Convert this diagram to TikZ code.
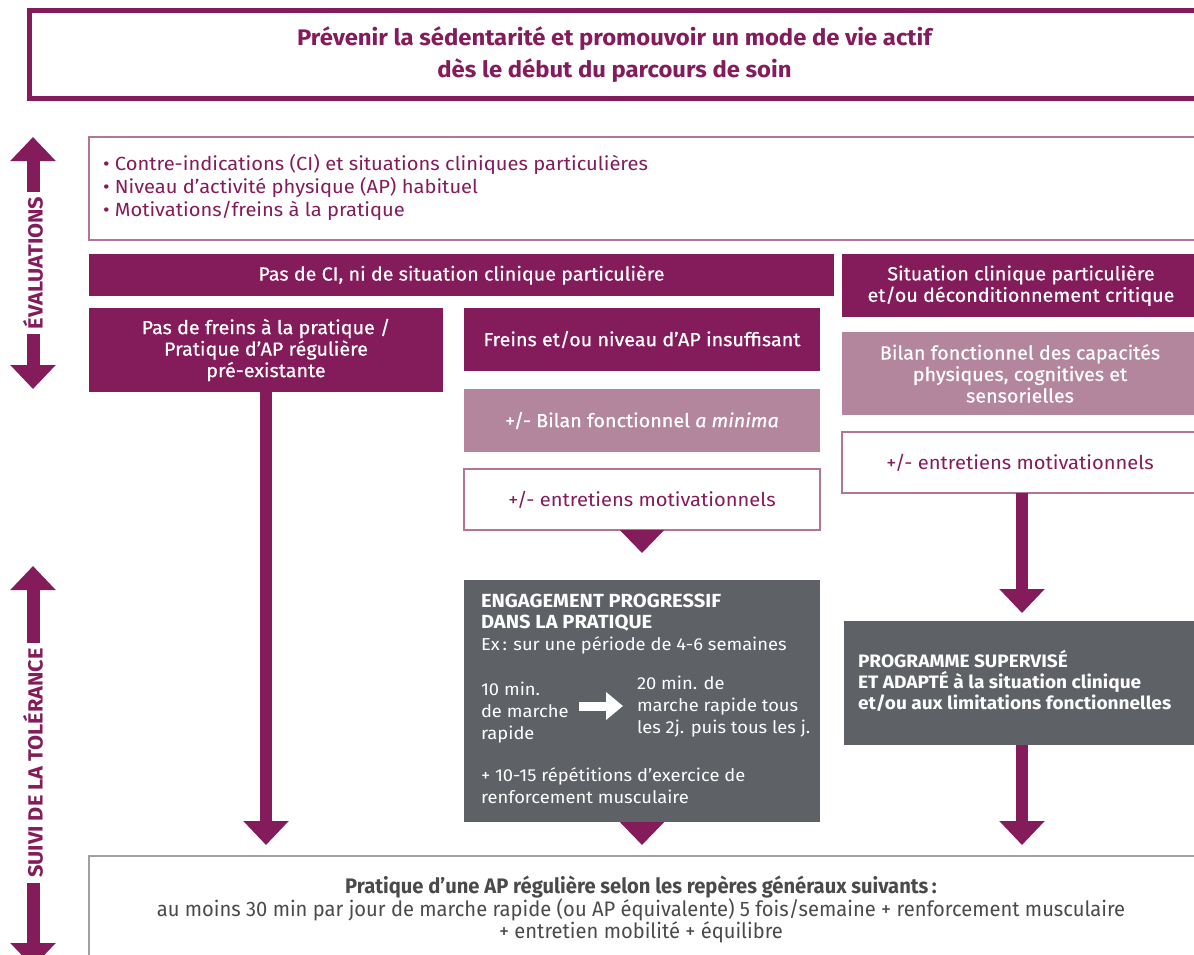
\documentclass[tikz,border=0pt]{standalone}
\usepackage{fontspec}
\setmainfont[FakeStretch=1.06]{Fira Sans}
\newfontfamily\condf[FakeStretch=0.96]{Fira Sans}
\newfontfamily\medf[FakeStretch=1.04,FakeBold=0.6]{Fira Sans}
\usetikzlibrary{arrows.meta}
\definecolor{pur}{HTML}{841B5B}
\definecolor{mauve}{HTML}{B4869E}
\definecolor{gry}{HTML}{5E6266}
\definecolor{pbord}{HTML}{B07597}
\definecolor{txtg}{HTML}{4A4A4A}
\newcommand\fs{\fontsize{19}{21.5}\selectfont}
\newcommand\gs{\fontsize{17.3}{22}\selectfont}
\tikzset{
  base/.style={inner sep=0pt, outer sep=0pt, anchor=north west, align=center, font=\fs},
  pfill/.style={base, fill=pur, text=white, font=\fs\medf},
  mfill/.style={base, fill=mauve, text=white, font=\fs\medf},
  wbox/.style={base, fill=white, draw=pbord, line width=1.2pt, text=pur},
  gfill/.style={base, fill=gry, text=white},
  txt/.style={inner sep=0pt, outer sep=0pt, align=left, font=\gs},
  bigarrow/.style={draw=pur, line width=12pt, -{Triangle[width=44pt,length=24pt]}},
  headonly/.style={draw=pur, line width=12pt, -{Triangle[width=43pt,length=23pt]}},
  sidelabel/.style={rotate=90, inner sep=0pt, outer sep=5pt, text=pur, font=\fontsize{20.5}{22}\selectfont\bfseries},
  whitearrow/.style={draw=white, line width=9pt, -{Triangle[width=27pt,length=17pt]}}
}
\begin{document}
\begin{tikzpicture}[x=1pt,y=-1pt]
\clip (0,0) rectangle (1194,954);
\fill[white] (0,0) rectangle (1194,954);
% title
\node[base, draw=pur, line width=5pt, minimum width=1170pt, minimum height=88pt, text=pur,
  font=\fontsize{22.5}{32}\selectfont\bfseries] (title) at (29.5,10.5)
  {Prévenir la sédentarité et promouvoir un mode de vie actif\\dès le début du parcours de soin};
% evaluations box
\node[base, draw=pbord, line width=1.2pt, minimum width=1110pt, minimum height=103pt] (eval) at (89,137) {};
\node[txt, text=pur, anchor=west, font=\fontsize{19}{23}\selectfont] (evaltxt) at (103,187)
  {• Contre-indications (CI) et situations cliniques particulières\\
   • Niveau d’activité physique (AP) habituel\\
   • Motivations/freins à la pratique};
% row 1
\node[pfill, minimum width=745pt, minimum height=42pt] (pasci) at (89,254) {Pas de CI, ni de situation clinique particulière};
\node[pfill, minimum width=358pt, minimum height=63pt] (sitcl) at (842,254) {Situation clinique particulière\\et/ou déconditionnement critique};
% left column
\node[pfill, minimum width=354pt, minimum height=84pt] (nofr) at (89,308) {Pas de freins à la pratique /\\Pratique d’AP régulière\\pré-existante};
% middle column
\node[pfill, minimum width=356pt, minimum height=63pt] (fre) at (464,308) {Freins et/ou niveau d’AP insuffisant};
\node[mfill, minimum width=356pt, minimum height=63pt] (bil) at (464,389) {+/- Bilan fonctionnel \textit{a minima}};
\node[wbox, minimum width=356pt, minimum height=61pt] (ent) at (464,469) {+/- entretiens motivationnels};
\node[gfill, minimum width=356pt, minimum height=242pt] (eng) at (464,580) {};
\node[txt, text=white, anchor=north west, font=\fontsize{19}{21}\selectfont\bfseries] (engt) at (481,594)
  {ENGAGEMENT PROGRESSIF\\DANS LA PRATIQUE};
\node[txt, text=white, anchor=north west] (ex) at (481,637) {Ex\,: sur une période de 4-6 semaines};
\node[txt, text=white, anchor=north west] (ten) at (481,682) {10 min.\\de marche\\rapide};
\node[txt, text=white, anchor=north west] (twenty) at (637,676) {20 min. de\\marche rapide tous\\les 2j. puis tous les j.};
\node[txt, text=white, anchor=north west] (renf) at (481,768) {+ 10-15 répétitions d’exercice de\\renforcement musculaire};
\coordinate (wa1) at (579,706);
\coordinate (wa2) at (623,706);
\draw[whitearrow] (wa1) -- (wa2);
% right column
\node[mfill, minimum width=356pt, minimum height=83pt] (bilr) at (842,332) {Bilan fonctionnel des capacités\\physiques, cognitives et\\sensorielles};
\node[wbox, minimum width=356pt, minimum height=61pt] (entr) at (842,432) {+/- entretiens motivationnels};
\node[gfill, minimum width=354pt, minimum height=124pt] (prog) at (844,621) {};
\node[txt, text=white, anchor=west, font=\fontsize{18}{21}\selectfont\bfseries] (progt) at (858,681)
  {PROGRAMME SUPERVISÉ\\ET ADAPTÉ à la situation clinique\\et/ou aux limitations fonctionnelles};
% bottom box
\node[base, draw=gry!60, line width=1.2pt, minimum width=1110pt, minimum height=110pt] (fin) at (89,856) {};
\node[txt, align=center, anchor=north, text=txtg, font=\fontsize{21}{22}\selectfont\condf] (fint) at (641,876)
  {{\bfseries Pratique d’une AP régulière selon les repères généraux suivants\,:}\\
   au moins 30 min par jour de marche rapide (ou AP équivalente) 5 fois/semaine + renforcement musculaire\\
   + entretien mobilité + équilibre};
% connectors
\draw[bigarrow, shorten >=11pt] (nofr.south -| 266,0) -- (266,856);
\draw[headonly] (ent.south) -- ++(0,23);
\draw[headonly] (eng.south) -- ++(0,23);
\draw[bigarrow] (entr.south -| 1022,0) -- (1022,613);
\draw[bigarrow, shorten >=11pt] (prog.south -| 1022,0) -- (1022,856);
% side arrows
\node[sidelabel] (evl) at (33,263) {ÉVALUATIONS};
\coordinate (evtop) at (33,137);
\coordinate (evbot) at (33,389);
\draw[bigarrow, line width=13pt] (evl.east) -- (evtop);
\draw[bigarrow, line width=13pt] (evl.west) -- (evbot);
\node[sidelabel] (suv) at (33,763) {SUIVI DE LA TOLÉRANCE};
\coordinate (sutop) at (33,566);
\coordinate (subot) at (33,967);
\draw[bigarrow, line width=13pt] (suv.east) -- (sutop);
\draw[bigarrow, line width=13pt] (suv.west) -- (subot);
\end{tikzpicture}
\end{document}
